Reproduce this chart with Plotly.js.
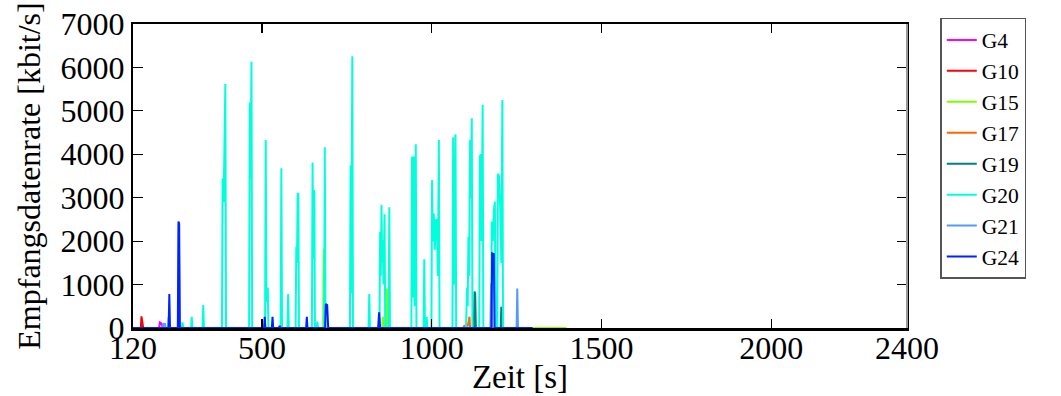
<!DOCTYPE html>
<html>
<head>
<meta charset="utf-8">
<script src="https://cdn.plot.ly/plotly-3.0.1.min.js"></script>
<style>html,body{margin:0;padding:0;background:#fff;}#chart{width:1061px;height:396px;}</style>
</head>
<body>
<div id="chart"></div>
<script>
// ---- data (time in s, rate in kbit/s) ----
const seriesNames = ["G4", "G10", "G15", "G17", "G19", "G20", "G21", "G24"];
const seriesColors = ["#ff00ff", "#ff0000", "#80ff00", "#ff6600", "#008080", "#00ffdd", "#5599ff", "#0022ff"];

const g4_t = [120, 197, 199, 203, 206, 208, 1297];
const g4_v = [0, 0, 130, 110, 60, 0, 0];

const g10_t = [120, 143, 145, 148, 150, 1297];
const g10_v = [0, 0, 270, 120, 0, 0];

const g15_t = [120, 680, 682, 684, 854, 856, 858, 866, 868, 870, 1397];
const g15_v = [0, 0, 1820, 0, 0, 260, 0, 0, 910, 0, 0];

const g17_t = [120, 1093, 1096, 1106, 1109, 1111, 1113, 1297];
const g17_v = [0, 0, 50, 50, 150, 260, 0, 0];

const g19_t = [120, 1124, 1126, 1128, 1130, 1203, 1205, 1207, 1297];
const g19_v = [0, 0, 840, 800, 0, 0, 490, 0, 0];

const g20_t = [120, 264, 266, 268, 291, 293, 295, 325, 327, 329, 382, 384, 387, 392, 394,
  462, 464, 466, 469, 471, 509, 511, 513, 517, 519, 555, 557, 559, 575, 577, 579,
  599, 601, 603, 605, 607, 609, 647, 649, 651, 654, 656, 661, 663, 665, 683, 685, 687,
  759, 761, 763, 766, 768, 814, 816, 818, 846, 848, 850, 852, 854, 856, 858, 861, 863,
  873, 875, 877, 940, 942, 944, 947, 950, 953, 955, 976, 978, 980, 983, 985, 987,
  999, 1001, 1003, 1006, 1009, 1012, 1015, 1018, 1021, 1023, 1061, 1063, 1066, 1070, 1072,
  1101, 1104, 1106, 1108, 1110, 1113, 1115, 1118, 1120, 1140, 1142, 1145, 1147, 1150, 1152,
  1175, 1177, 1180, 1183, 1186, 1188, 1193, 1195, 1198, 1202, 1205, 1208, 1210, 1297];
const g20_v = [0, 0, 130, 0, 0, 260, 0, 0, 530, 0, 0, 3450, 2900, 5620, 0,
  0, 5190, 3450, 6130, 0, 0, 4330, 600, 930, 0, 0, 3680, 0, 0, 780, 0,
  0, 1870, 1500, 3100, 3090, 0, 0, 3810, 1600, 3180, 0, 0, 145, 0, 0, 4160, 0,
  0, 3750, 800, 6260, 0, 0, 780, 0, 0, 2210, 1200, 2830, 1500, 2030, 1000, 2620, 0,
  0, 2780, 0, 0, 3950, 700, 3950, 500, 4230, 0, 0, 1580, 0, 0, 260, 0,
  0, 3410, 2000, 2640, 1800, 2480, 2500, 1200, 4330, 0, 0, 4390, 1000, 4460, 0,
  0, 930, 500, 2100, 1200, 4330, 3000, 4830, 0, 0, 3950, 4000, 2000, 5140, 0,
  0, 2450, 2000, 2700, 2910, 0, 0, 3550, 3500, 2700, 1500, 5250, 0, 0];

const g21_t = [120, 207, 209, 214, 216, 223, 225, 227, 253, 255, 257, 1173, 1175, 1177, 1250, 1252, 1254, 1297];
const g21_v = [0, 0, 90, 90, 0, 0, 260, 0, 0, 2400, 0, 0, 1030, 0, 0, 910, 0, 0];

const g24_t = [120, 225, 227, 229, 252, 254, 256, 258, 506, 508, 510, 529, 531, 533, 550, 552, 554,
  630, 632, 634, 686, 688, 692, 695, 842, 845, 848, 1176, 1178, 1183, 1185, 1297];
const g24_v = [0, 0, 780, 0, 0, 2450, 2400, 0, 0, 260, 0, 0, 260, 0, 0, 50, 0,
  0, 260, 0, 0, 550, 530, 0, 0, 360, 0, 0, 1720, 1700, 0, 0];

const xTicks = [120, 500, 1000, 1500, 2000, 2400];
const yTicks = [0, 1000, 2000, 3000, 4000, 5000, 6000, 7000];

const allT = [g4_t, g10_t, g15_t, g17_t, g19_t, g20_t, g21_t, g24_t];
const allV = [g4_v, g10_v, g15_v, g17_v, g19_v, g20_v, g21_v, g24_v];

const FONT = '"Liberation Serif", "Times New Roman", serif';

const traces = seriesNames.map((n, i) => ({
  type: 'scatter', mode: 'lines', name: n,
  x: allT[i], y: allV[i],
  line: {color: seriesColors[i], width: 2}
}));

const layout = {
  width: 1061, height: 396,
  margin: {l: 133, r: 154, t: 24, b: 68},
  paper_bgcolor: '#fff', plot_bgcolor: '#fff',
  font: {family: FONT, color: '#000', size: 32},
  showlegend: true,
  legend: {
    x: 1.043, y: 1.02, xanchor: 'left', yanchor: 'top',
    font: {family: FONT, size: 21.5, color: '#000'},
    bordercolor: '#555', borderwidth: 1.5, bgcolor: '#fff',
    tracegroupgap: 0, maxheight: 390
  },
  shapes: [
    {type: 'line', xref: 'paper', yref: 'paper', x0: 1, x1: 1, y0: 0, y1: 1,
     line: {color: '#999', width: 2}}
  ],
  xaxis: {
    range: [120, 2400], tickvals: xTicks, ticktext: xTicks.map(String),
    ticks: 'inside', ticklen: 9, tickwidth: 1.2, tickcolor: '#000',
    showline: true, linecolor: '#000', linewidth: 2.5, mirror: 'ticks',
    showgrid: false, zeroline: false, ticklabelstandoff: -10,
    tickfont: {family: FONT, size: 32, color: '#000'},
    title: {text: 'Zeit [s]', font: {family: FONT, size: 33, color: '#000'}, standoff: 0}
  },
  yaxis: {
    range: [0, 7000], tickvals: yTicks, ticktext: yTicks.map(String),
    ticks: 'inside', ticklen: 10, tickwidth: 1.2, tickcolor: '#000',
    showline: true, linecolor: '#000', linewidth: 2, mirror: 'ticks',
    showgrid: false, zeroline: false,
    tickfont: {family: FONT, size: 32, color: '#000'},
    title: {text: 'Empfangsdatenrate [kbit/s]', font: {family: FONT, size: 32, color: '#000'}, standoff: 10}
  }
};

Plotly.newPlot('chart', traces, layout, {displayModeBar: false, staticPlot: true});
</script>
</body>
</html>
